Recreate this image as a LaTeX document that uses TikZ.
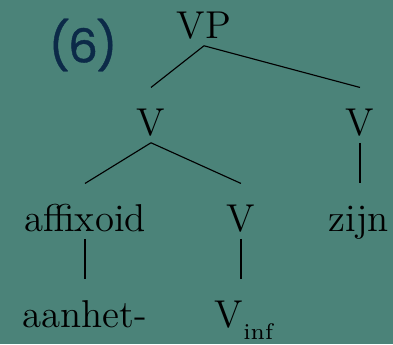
\documentclass[tikz,border=0pt]{standalone}
\usepackage{fontspec}
\newfontfamily\exnumfont[FakeBold=0.8]{Poppins}
\definecolor{slidebg}{RGB}{75,131,121}
\definecolor{exnum}{RGB}{12,42,72}
\begin{document}
\begin{tikzpicture}[x=0.01087cm, y=-0.01087cm,
    cat/.style={anchor=base, inner sep=0pt, text height=14.5pt, text depth=2.2pt,
      font=\fontsize{12}{14}\selectfont},
    branch/.style={line width=0.35pt, color=black},
  ]
  % background
  \fill[slidebg] (0,0) rectangle (393,344);
  \useasboundingbox (0,0) rectangle (393,344);
  % example number
  \node[font=\exnumfont\fontsize{14.5}{16}\selectfont, text=exnum, inner sep=0pt]
    (exno) at (83,45) {(\kern-0.04em6\kern-0.04em)};
  % tree nodes
  \node[cat] (vp)    at (204,38)  {VP};
  \node[cat] (vleft) at (151,135) {V};
  \node[cat] (vright) at (360,135) {V};
  \node[cat] (affix) at (85,231)  {affixoid};
  \node[cat] (vmid)  at (241,231) {V};
  \node[cat] (zijn)  at (359,231) {zijn};
  \node[cat] (aanhet) at (85,327) {aanhet-};
  \node[cat] (vinf)  at (244,327) {V\raisebox{-4pt}{\scriptsize inf}};
  % branches
  \draw[branch] (vp.south) -- (vleft.north);
  \draw[branch] (vp.south) -- (vright.north);
  \draw[branch] (vleft.south) -- (affix.north);
  \draw[branch] (vleft.south) -- (vmid.north);
  \draw[branch] (vright.south) -- (vright.south |- zijn.north);
  \draw[branch] (affix.south) -- (aanhet.north);
  \draw[branch] (vmid.south) -- (vmid.south |- vinf.north);
\end{tikzpicture}
\end{document}
